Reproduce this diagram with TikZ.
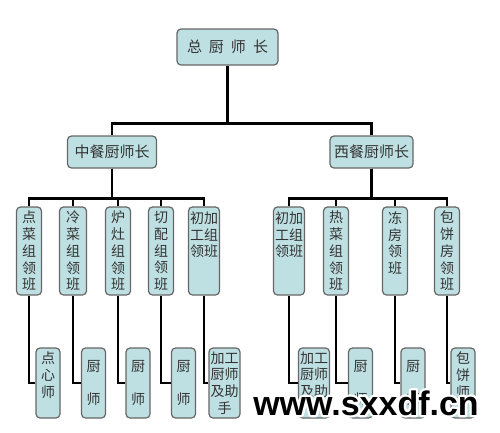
\documentclass[tikz,border=0pt]{standalone}
\usepackage{fontspec}
\setmainfont{Noto Sans CJK SC}
\newfontfamily\markfont{Liberation Sans}
\usepackage{xcolor}
\usetikzlibrary{positioning}
\definecolor{boxfill}{HTML}{BFE0E3}
\definecolor{boxline}{HTML}{666666}
% white outline for the site mark
\newcommand{\halotext}[1]{\special{pdf:literal q 4.6 w 1 j 1 Tr}#1\special{pdf:literal Q}}

\begin{document}
\begin{tikzpicture}[
    x=1pt, y=-1pt,
    box/.style={rectangle, rounded corners=4pt, draw=boxline, fill=boxfill, line width=1.2pt, align=center, inner sep=1pt, font=\fontsize{14}{16.7}\selectfont, text=black!80},
    head/.style={box, minimum height=32pt, font=\fontsize{15}{18}\selectfont},
    lead/.style={box, minimum width=25pt, minimum height=88pt},
    cook/.style={box, minimum width=24pt, minimum height=70pt},
    wide/.style={minimum width=31pt},
    link/.style={line width=2.6pt, black},
    sitemark/.style={anchor=base, font=\markfont\bfseries\fontsize{34}{34}\selectfont}
]
\useasboundingbox (0,0) rectangle (500,432);

% top
\node[head, minimum width=101pt, minimum height=36pt] (chief) at (227.5,47) {总\hspace{7pt}厨\hspace{7pt}师\hspace{7pt}长};
\node[head, minimum width=89pt] (cn) at (112,152) {中餐厨师长};
\node[head, minimum width=83pt] (wt) at (371.5,152) {西餐厨师长};

% group leaders
\node[lead] (dc) at (29,251) {点\\菜\\组\\领\\班};
\node[lead, minimum width=27pt] (lc) at (73,251) {冷\\菜\\组\\领\\班};
\node[lead] (lz) at (118,251) {炉\\灶\\组\\领\\班};
\node[lead] (qp) at (161,251) {切\\配\\组\\领\\班};
\node[lead, wide] (cja) at (204,251) {初加\\工组\\领班\\~\\~};
\node[lead, wide] (cjb) at (289,251) {初加\\工组\\领班\\~\\~};
\node[lead] (rc) at (336,251) {热\\菜\\组\\领\\班};
\node[lead] (df) at (395,251) {冻\\房\\领\\班\\~};
\node[lead] (bf) at (447,251) {包\\饼\\房\\领\\班};

% cooks
\node[cook] (dx) at (48,383) {点\\心\\师\\~};
\node[cook] (csa) at (93.5,383) {厨\\[16pt]师};
\node[cook] (csb) at (138,383) {厨\\[16pt]师};
\node[cook] (csc) at (183.5,383) {厨\\[16pt]师};
\node[cook, wide] (jga) at (224.5,383) {加工\\厨师\\及助\\手};
\node[cook, wide] (jgb) at (314,383) {加工\\厨师\\及助\\手};
\node[cook] (csd) at (360.5,383) {厨\\[16pt]师};
\node[cook] (cse) at (413,383) {厨\\[16pt]师};
\node[cook] (bx) at (463,383) {包\\饼\\师\\~};

% connectors
\draw[link] (chief.south) -- ++(0,58) -| (cn.north);
\draw[link] (chief.south) -- ++(0,58) -| (wt.north);
\foreach \c in {dc,lc,lz,qp,cja}
  \draw[link] (cn.south) -- ++(0,30) -| (\c.north);
\foreach \c in {cjb,rc,df,bf}
  \draw[link] (wt.south) -- ++(0,30) -| (\c.north);
\foreach \a/\b in {dc/dx,lc/csa,lz/csb,qp/csc,cja/jga,cjb/jgb,rc/csd,df/cse,bf/bx}
  \draw[link] (\a.south) |- (\b.west);

% watermark
\node[sitemark, text=white] (halo) at (366,415) {\halotext{www.sxxdf.cn}};
\node[sitemark] (site) at (366,415) {www.sxxdf.cn};

\end{tikzpicture}
\end{document}
